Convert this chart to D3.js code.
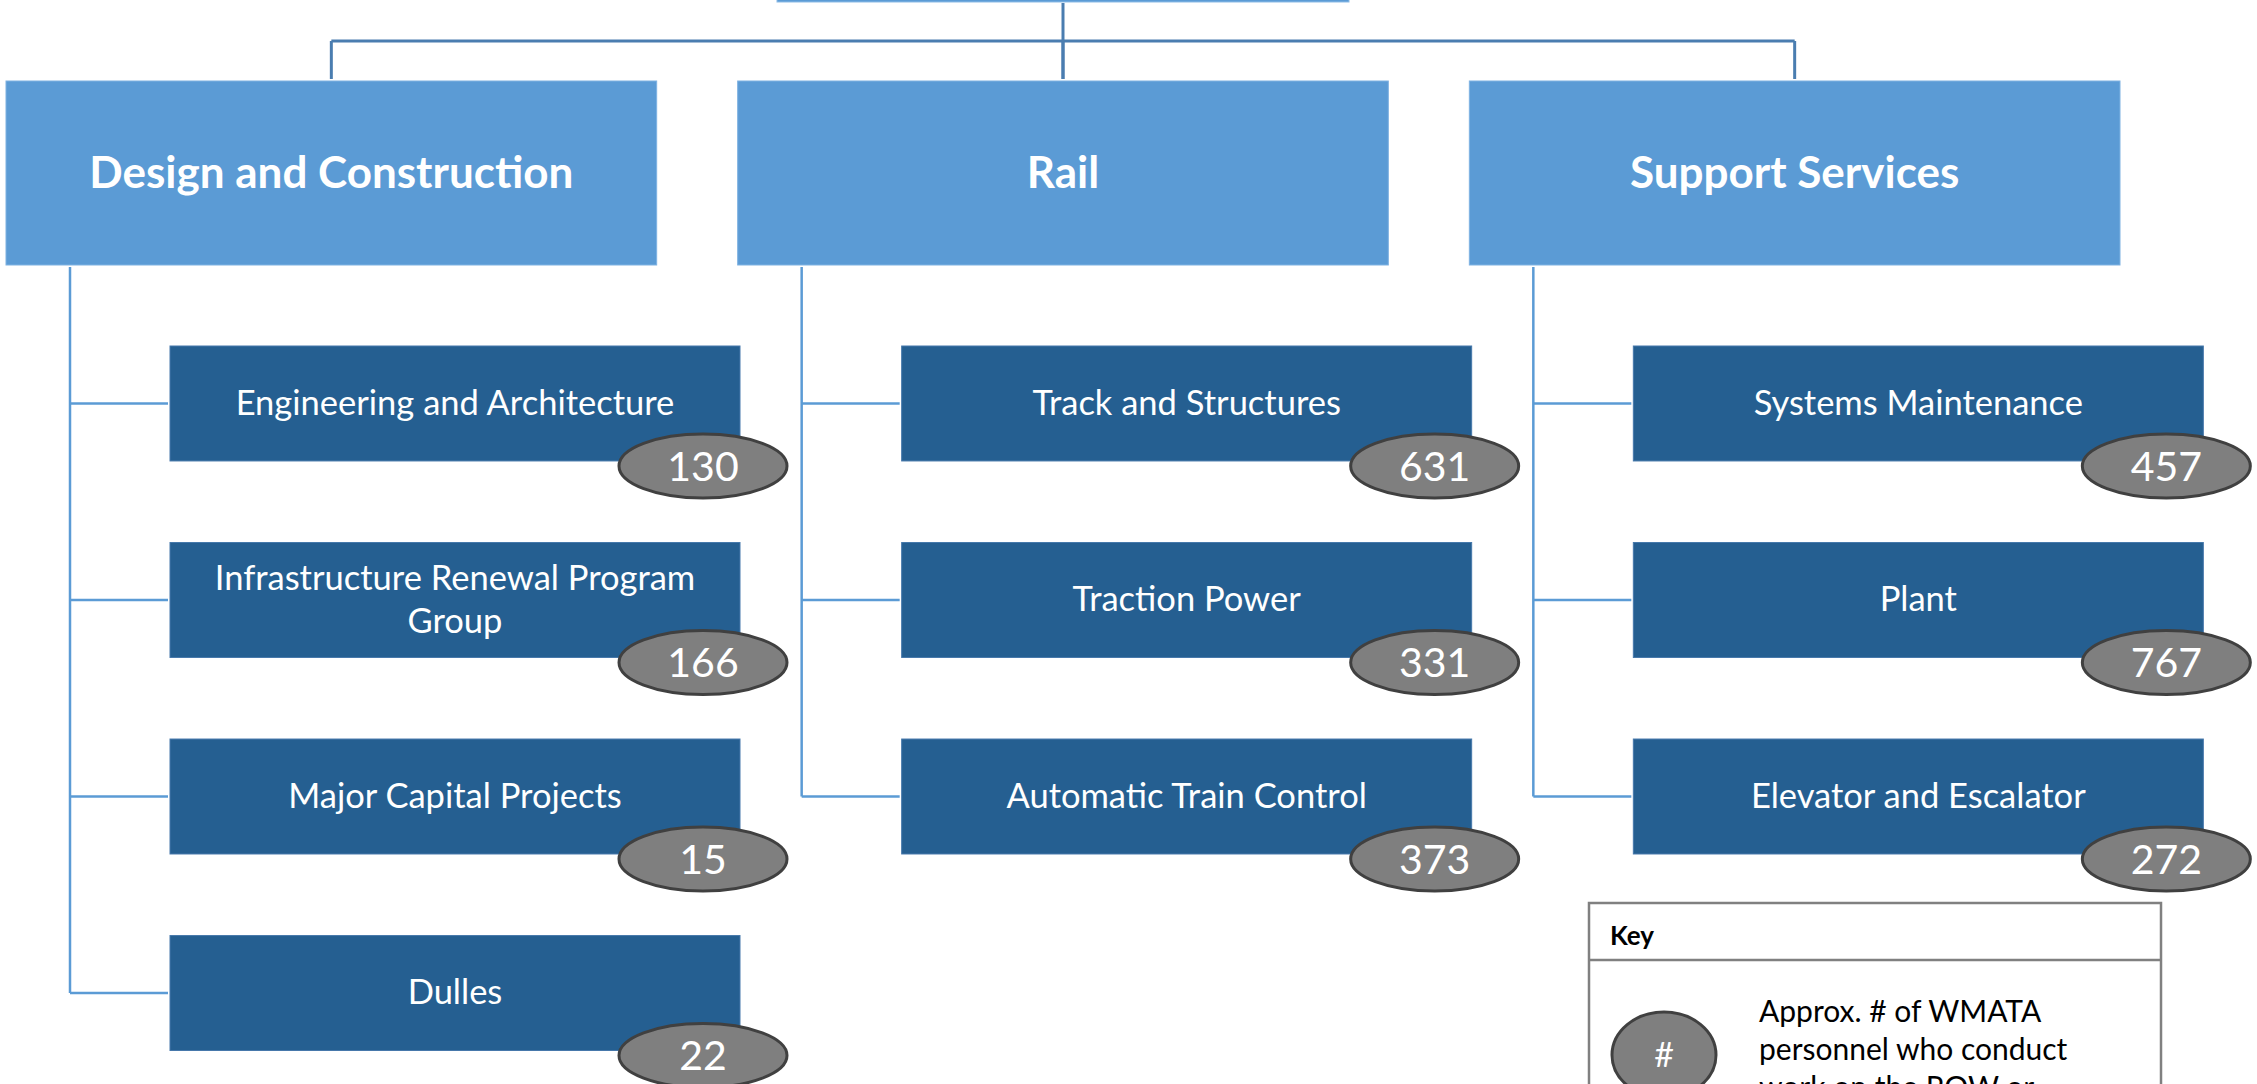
<!DOCTYPE html>
<html>
<head>
<meta charset="utf-8">
<script src="https://cdn.jsdelivr.net/npm/d3@7"></script>
<style>
  html, body { margin: 0; padding: 0; background: #fff; }
  svg { display: block; }
  text { font-family: Lato, "Open Sans", sans-serif; fill: #fff; }
</style>
</head>
<body>
<script>
const width = 2257,
    height = 1084;

// org chart data
const divisions = ["Design and Construction", "Rail", "Support Services"];
const unitNames = [
    "Engineering and Architecture", "Infrastructure Renewal Program Group", "Major Capital Projects", "Dulles",
    "Track and Structures", "Traction Power", "Automatic Train Control",
    "Systems Maintenance", "Plant", "Elevator and Escalator"
];
const unitDivision = [0, 0, 0, 0, 1, 1, 1, 2, 2, 2];
const unitRow = [0, 1, 2, 3, 0, 1, 2, 0, 1, 2];
const unitCounts = [130, 166, 15, 22, 631, 331, 373, 457, 767, 272];
const keyLines = ["Approx. # of WMATA", "personnel who conduct", "work on the ROW or"];

const units = unitNames.map((name, i) => ({
    name: name,
    div: divisions[unitDivision[i]],
    row: unitRow[i],
    count: unitCounts[i]
}));

const LIGHT = "#5b9bd5",
    DARK = "#255f91",
    LINE = "#4a7db0";

const x = d3.scaleBand()
    .domain(divisions)
    .range([6, 2120])
    .paddingInner(0.1107);

const y = d3.scaleBand()
    .domain(d3.range(4))
    .range([346, 1050.5])
    .paddingInner(0.415);

const headTop = 81, headBottom = 265, barY = 41;
const childOffset = 164, childWidth = 570, trunkOffset = 64;

// wrap long unit names onto two lines
const wrap = {"Infrastructure Renewal Program Group": ["Infrastructure Renewal Program", "Group"]};

const svg = d3.select('body').append('svg')
    .attr('width', width)
    .attr('height', height);

const cx = d => x(d) + x.bandwidth() / 2;
const rootDiv = divisions[1];

// top (cut-off) box
svg.append('rect')
    .attr('x', cx(rootDiv) - 286)
    .attr('y', -60)
    .attr('width', 572)
    .attr('height', 62)
    .attr('fill', LIGHT)
    .attr('stroke', '#8dbbe6')
    .attr('stroke-width', 1);

// connectors from top box to divisions
const links = svg.append('g')
    .attr('fill', 'none')
    .attr('stroke', LINE)
    .attr('stroke-width', 3);

links.append('line')
    .attr('x1', cx(divisions[0])).attr('x2', cx(divisions[2]))
    .attr('y1', barY).attr('y2', barY);

links.append('line')
    .attr('x1', cx(rootDiv)).attr('x2', cx(rootDiv))
    .attr('y1', 3).attr('y2', headTop - 2);

links.selectAll('line.drop')
    .data(divisions)
    .join('line')
    .attr('class', 'drop')
    .attr('x1', d => cx(d)).attr('x2', d => cx(d))
    .attr('y1', barY).attr('y2', headTop - 2);

// division boxes
const head = svg.selectAll('g.head')
    .data(divisions)
    .join('g')
    .attr('class', 'head');

head.append('rect')
    .attr('x', d => x(d))
    .attr('y', headTop)
    .attr('width', x.bandwidth())
    .attr('height', headBottom - headTop)
    .attr('fill', LIGHT)
    .attr('stroke', '#7fb2e2')
    .attr('stroke-width', 1);

head.append('text')
    .attr('x', d => cx(d))
    .attr('y', (headTop + headBottom) / 2)
    .attr('dy', '0.35em')
    .attr('text-anchor', 'middle')
    .style('font-size', '44px')
    .style('font-weight', 'bold')
    .text(d => d);

// child connectors
const childLinks = svg.append('g')
    .attr('fill', 'none')
    .attr('stroke', LIGHT)
    .attr('stroke-width', 2.5);

childLinks.selectAll('line.trunk')
    .data(divisions)
    .join('line')
    .attr('class', 'trunk')
    .attr('x1', d => x(d) + trunkOffset).attr('x2', d => x(d) + trunkOffset)
    .attr('y1', headBottom + 2)
    .attr('y2', d => {
        const last = d3.max(units.filter(u => u.div === d), u => u.row);
        return y(last) + y.bandwidth() / 2;
    });

childLinks.selectAll('line.tick')
    .data(units)
    .join('line')
    .attr('class', 'tick')
    .attr('x1', d => x(d.div) + trunkOffset)
    .attr('x2', d => x(d.div) + childOffset - 2)
    .attr('y1', d => y(d.row) + y.bandwidth() / 2)
    .attr('y2', d => y(d.row) + y.bandwidth() / 2);

// unit boxes
const unit = svg.selectAll('g.unit')
    .data(units)
    .join('g')
    .attr('class', 'unit');

unit.append('rect')
    .attr('x', d => x(d.div) + childOffset)
    .attr('y', d => y(d.row))
    .attr('width', childWidth)
    .attr('height', y.bandwidth())
    .attr('fill', DARK)
    .attr('stroke', '#4678ab')
    .attr('stroke-width', 1);

unit.append('text')
    .attr('text-anchor', 'middle')
    .style('font-size', '34.5px')
    .each(function(d) {
        const lines = wrap[d.name] || [d.name];
        const midX = x(d.div) + childOffset + childWidth / 2;
        const midY = y(d.row) + y.bandwidth() / 2;
        const lh = 43;
        d3.select(this).selectAll('tspan')
            .data(lines)
            .join('tspan')
            .attr('x', midX)
            .attr('y', (l, i) => midY + (i - (lines.length - 1) / 2) * lh)
            .attr('dy', '0.33em')
            .text(l => l);
    });

// head-count badges
const badgeX = d => x(d.div) + childOffset + childWidth - 37,
    badgeY = d => y(d.row) + y.bandwidth() + 5;

unit.append('ellipse')
    .attr('cx', badgeX)
    .attr('cy', badgeY)
    .attr('rx', 84)
    .attr('ry', 32)
    .attr('fill', '#7f7f7f')
    .attr('stroke', '#404040')
    .attr('stroke-width', 3);

unit.append('text')
    .attr('x', badgeX)
    .attr('y', badgeY)
    .attr('dy', '0.36em')
    .attr('text-anchor', 'middle')
    .style('font-size', '41px')
    .text(d => d.count);

// key
const key = svg.append('g').attr('class', 'key');
const keyX = 1589, keyW = 572, keyTop = 903, keyHead = 960;

key.append('rect')
    .attr('x', keyX)
    .attr('y', keyTop)
    .attr('width', keyW)
    .attr('height', 300)
    .attr('fill', '#fff')
    .attr('stroke', '#808080')
    .attr('stroke-width', 2.5);

key.append('line')
    .attr('x1', keyX).attr('x2', keyX + keyW)
    .attr('y1', keyHead).attr('y2', keyHead)
    .attr('stroke', '#808080')
    .attr('stroke-width', 2.5);

key.append('text')
    .attr('x', keyX + 21)
    .attr('y', 945)
    .style('font-size', '26px')
    .style('font-weight', 'bold')
    .style('fill', '#000')
    .text('Key');

key.append('ellipse')
    .attr('cx', 1664)
    .attr('cy', 1055)
    .attr('rx', 52)
    .attr('ry', 43)
    .attr('fill', '#7f7f7f')
    .attr('stroke', '#404040')
    .attr('stroke-width', 3);

key.append('text')
    .attr('x', 1664)
    .attr('y', 1055)
    .attr('dy', '0.36em')
    .attr('text-anchor', 'middle')
    .style('font-size', '34px')
    .text('#');

key.append('text')
    .style('font-size', '30px')
    .style('fill', '#000')
    .selectAll('tspan')
    .data(keyLines)
    .join('tspan')
    .attr('x', 1759)
    .attr('y', (d, i) => 1022 + i * 38)
    .text(d => d);
</script>
</body>
</html>
